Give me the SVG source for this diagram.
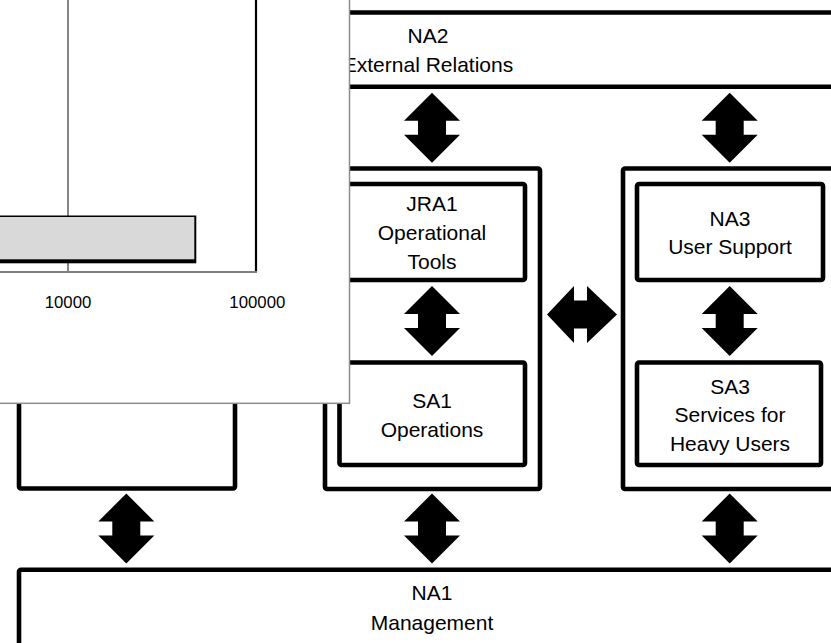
<svg xmlns="http://www.w3.org/2000/svg" xmlns:xlink="http://www.w3.org/1999/xlink" width="831" height="643" viewBox="0 0 831 643">
  <style>
    .box { fill: #ffffff; stroke: #000000; stroke-width: 4.6; }
    .lbl { font-family: "Liberation Sans", Arial, sans-serif; font-size: 21px; fill: #000000; text-anchor: middle; }
    .tick { font-family: "Liberation Sans", Arial, sans-serif; font-size: 16.8px; fill: #000000; text-anchor: middle; }
    .arrow { fill: #000000; }
  </style>
  <defs>
    <path id="varrow" d="M0,0 L28,28 L14,28 L14,42 L28,42 L0,70 L-28,42 L-14,42 L-14,28 L-28,28 Z"/>
    <path id="harrow" d="M0,0 L27,-28.5 L27,-14 L40,-14 L40,-28.5 L70,0 L40,28.5 L40,14 L27,14 L27,28.5 Z"/>
  </defs>
  <rect x="0" y="0" width="831" height="643" fill="#ffffff"/>

  <g id="na2">
    <rect class="box" x="19" y="12.5" width="840" height="74.2" rx="2"/>
    <text class="lbl" x="428" y="43.3">NA2</text>
    <text class="lbl" x="428" y="71.7">External Relations</text>
  </g>

  <g id="left-column">
    <rect class="box" x="19" y="168.5" width="216" height="320" rx="2"/>
  </g>

  <g id="operations-group">
    <rect class="box" x="325" y="168.5" width="215" height="320.5" rx="2"/>
  </g>
  <g id="jra1">
    <rect class="box" x="339.5" y="184" width="185.5" height="96" rx="2"/>
    <text class="lbl" x="432" y="211">JRA1</text>
    <text class="lbl" x="432" y="240">Operational</text>
    <text class="lbl" x="432" y="268.5">Tools</text>
  </g>
  <g id="sa1">
    <rect class="box" x="339.5" y="362.5" width="185.5" height="102.5" rx="2"/>
    <text class="lbl" x="432" y="408.3">SA1</text>
    <text class="lbl" x="432" y="436.7">Operations</text>
  </g>

  <g id="users-group">
    <rect class="box" x="623" y="168.5" width="240" height="320.5" rx="2"/>
  </g>
  <g id="na3">
    <rect class="box" x="637" y="184" width="186" height="96" rx="2"/>
    <text class="lbl" x="730" y="226">NA3</text>
    <text class="lbl" x="730" y="254">User Support</text>
  </g>
  <g id="sa3">
    <rect class="box" x="637" y="362.5" width="184" height="102.5" rx="2"/>
    <text class="lbl" x="730" y="394">SA3</text>
    <text class="lbl" x="730" y="422.3">Services for</text>
    <text class="lbl" x="730" y="451">Heavy Users</text>
  </g>

  <g id="na1">
    <rect class="box" x="19" y="569.8" width="840" height="100" rx="2"/>
    <text class="lbl" x="432" y="600">NA1</text>
    <text class="lbl" x="432" y="630">Management</text>
  </g>

  <g id="connectors" class="arrow">
    <use xlink:href="#varrow" href="#varrow" x="432" y="92.7"/>
    <use xlink:href="#varrow" href="#varrow" x="729.7" y="92.7"/>
    <use xlink:href="#varrow" href="#varrow" x="432" y="286"/>
    <use xlink:href="#varrow" href="#varrow" x="729.7" y="286"/>
    <use xlink:href="#harrow" href="#harrow" x="547" y="314.5"/>
    <use xlink:href="#varrow" href="#varrow" x="126.3" y="493.5"/>
    <use xlink:href="#varrow" href="#varrow" x="432" y="493.5"/>
    <use xlink:href="#varrow" href="#varrow" x="729.7" y="493.5"/>
  </g>

  <g id="chart-overlay">
    <rect x="-2" y="-2" width="351.5" height="405.3" fill="#ffffff" stroke="#8c8c8c" stroke-width="1.5"/>
    <line x1="68" y1="0" x2="68" y2="272" stroke="#868686" stroke-width="2"/>
    <line x1="256" y1="0" x2="256" y2="272" stroke="#000000" stroke-width="2.2"/>
    <line x1="0" y1="272" x2="257" y2="272" stroke="#7f7f7f" stroke-width="2"/>
    <rect x="-2" y="215.5" width="198.3" height="47.8" fill="#000000"/>
    <rect x="-2" y="217" width="196.3" height="42.3" fill="#d9d9d9"/>
    <text class="tick" x="68" y="308.3">10000</text>
    <text class="tick" x="257.3" y="308.3">100000</text>
  </g>
</svg>
